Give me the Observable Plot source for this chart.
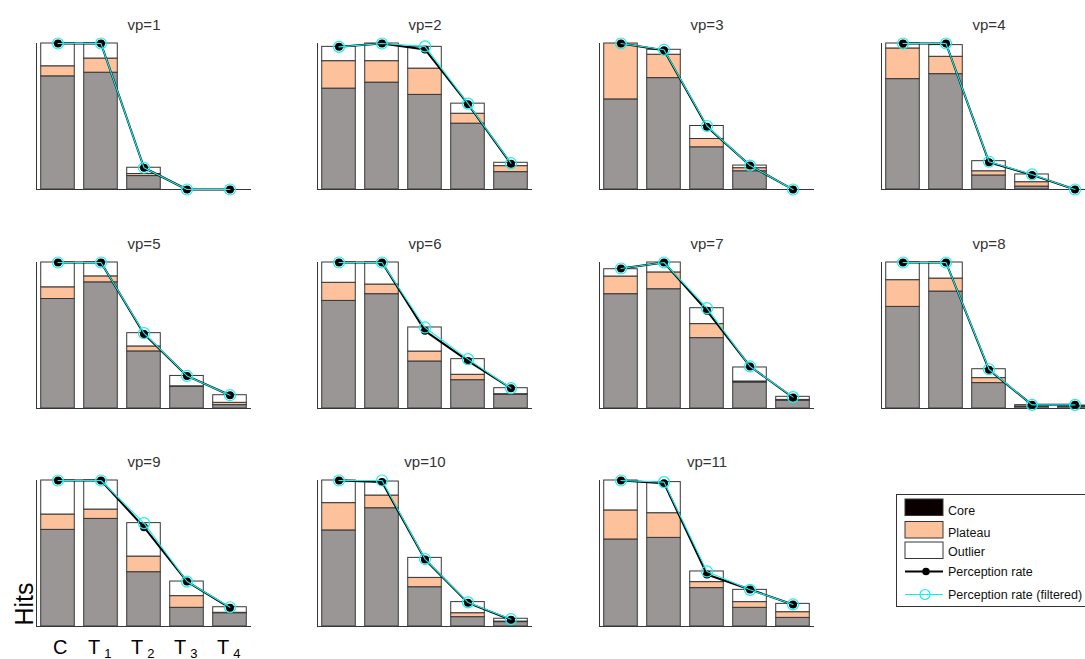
<!DOCTYPE html>
<html><head><meta charset="utf-8">
<script src="https://cdn.jsdelivr.net/npm/d3@7"></script>
<script src="https://cdn.jsdelivr.net/npm/@observablehq/plot@0.6"></script>
<style>
html,body{margin:0;padding:0;background:#fff;overflow:hidden;}
#root{position:relative;width:1085px;height:659px;overflow:hidden;font-family:"Liberation Sans",Arial,Helvetica,sans-serif;background:#fff;}
.panel{position:absolute;}
.panel svg{max-width:none !important;display:block;}
.legend{position:absolute;left:896px;top:494px;}
</style></head><body><div id="root"></div>
<script>
// ---------- data ----------
const titles = ["vp=1","vp=2","vp=3","vp=4","vp=5","vp=6","vp=7","vp=8","vp=9","vp=10","vp=11"];
const categories = ["C","T1","T2","T3","T4"];
// hits per segment (normalized), one row per panel, columns C,T1..T4
const coreHits = [
  [0.775,0.800,0.092,0,0],
  [0.691,0.732,0.648,0.451,0.119],
  [0.617,0.763,0.289,0.125,0],
  [0.756,0.790,0.096,0.020,0],
  [0.750,0.864,0.391,0.148,0.023],
  [0.737,0.783,0.322,0.194,0.094],
  [0.783,0.817,0.482,0.178,0.053],
  [0.696,0.801,0.174,0.011,0.011],
  [0.662,0.737,0.372,0.128,0.091],
  [0.658,0.810,0.269,0.064,0.030],
  [0.596,0.607,0.263,0.128,0.059]
];
const plateauHits = [
  [0.069,0.097,0.014,0,0],
  [0.188,0.147,0.180,0.068,0.041],
  [0.383,0.160,0.057,0.021,0],
  [0.210,0.119,0.029,0.030,0],
  [0.080,0.041,0.034,0.004,0.016],
  [0.124,0.066,0.068,0.037,0.004],
  [0.121,0.115,0.096,0.007,0.006],
  [0.183,0.089,0.034,0.003,0.003],
  [0.105,0.064,0.107,0.080,0.003],
  [0.187,0.087,0.064,0.027,0.004],
  [0.199,0.169,0.041,0.039,0.039]
];
const outlierHits = [
  [0.156,0.103,0.043,0,0],
  [0.098,0.121,0.149,0.069,0.023],
  [0.000,0.034,0.089,0.018,0],
  [0.034,0.080,0.069,0.053,0],
  [0.170,0.095,0.091,0.071,0.052],
  [0.139,0.151,0.165,0.107,0.041],
  [0.050,0.068,0.109,0.096,0.021],
  [0.121,0.110,0.061,0.009,0.006],
  [0.233,0.199,0.229,0.100,0.038],
  [0.155,0.096,0.137,0.076,0.019],
  [0.205,0.213,0.073,0.084,0.057]
];
const perceptionRate = [
  [1,1,0.149,0,0],
  [0.977,1,0.959,0.584,0.176],
  [1,0.954,0.430,0.164,0],
  [1,1,0.187,0.100,0],
  [1,1,0.511,0.223,0.091],
  [1,1,0.532,0.326,0.139],
  [0.959,1,0.669,0.288,0.075],
  [1,1,0.265,0.025,0.025],
  [1,1,0.680,0.308,0.128],
  [1,0.989,0.459,0.162,0.046],
  [1,0.982,0.356,0.253,0.151]
];
const perceptionRateFiltered = [
  [1,1,0.149,0,0],
  [0.977,1,0.980,0.588,0.180],
  [1,0.957,0.435,0.164,0],
  [1,1,0.190,0.103,0],
  [1,1,0.516,0.223,0.091],
  [1,1,0.555,0.338,0.139],
  [0.959,1,0.687,0.288,0.078],
  [1,1,0.269,0.025,0.025],
  [1,1,0.708,0.308,0.132],
  [1,1,0.462,0.165,0.050],
  [1,0.989,0.377,0.251,0.151]
];
const legendLabels = ["Core","Plateau","Outlier","Perception rate","Perception rate (filtered)"];
const yLabel = "Hits";

// ---------- style ----------
const CORE_FILL = "#9a9696", PLAT_FILL = "#fdc29c", OUT_FILL = "#ffffff", EDGE = "#363636";
const CYAN = "#19ecec";
const FONT = "'Liberation Sans', Arial, Helvetica, sans-serif";

// ---------- layout ----------
const colLefts = [35.5, 316.8, 598.6, 880.8];
const rowTops = [42.7, 261.7, 480];
const ML = 30, MR = 30, MT = 40, MB = 36, PW = 215, PH = 146;

const root = document.getElementById("root");

titles.forEach((title, p) => {
  const rows = categories.map((c, i) => {
    const a = coreHits[p][i], b = a + plateauHits[p][i], t = b + outlierHits[p][i];
    return {cat: c, x: i + 1, y0: 0, y1: a, y2: b, y3: t,
            perc: perceptionRate[p][i], filt: perceptionRateFiltered[p][i]};
  });
  const hw = 0.39;
  const marks = [
    Plot.rect(rows, {x1: d => d.x - hw, x2: d => d.x + hw, y1: "y0", y2: "y1", fill: CORE_FILL, stroke: EDGE, strokeWidth: 1}),
    Plot.rect(rows, {x1: d => d.x - hw, x2: d => d.x + hw, y1: "y1", y2: "y2", fill: PLAT_FILL, stroke: EDGE, strokeWidth: 1}),
    Plot.rect(rows, {x1: d => d.x - hw, x2: d => d.x + hw, y1: "y2", y2: "y3", fill: OUT_FILL, stroke: EDGE, strokeWidth: 1}),
    Plot.ruleX([0.5], {stroke: EDGE, strokeWidth: 1}),
    Plot.ruleY([0], {stroke: EDGE, strokeWidth: 1}),
    Plot.line(rows, {x: "x", y: "perc", stroke: "#000", strokeWidth: 2}),
    Plot.dot(rows, {x: "x", y: "perc", r: 4, fill: "#000", stroke: "none"}),
    Plot.line(rows, {x: "x", y: "filt", stroke: CYAN, strokeWidth: 1.1}),
    Plot.dot(rows, {x: "x", y: "filt", r: 5.5, fill: "none", stroke: CYAN, strokeWidth: 1.2}),
    Plot.text([title], {frameAnchor: "top", dy: -14, lineAnchor: "bottom", fontSize: 15, fill: "#333"})
  ];
  if (p === 8) {
    const base = categories.map(c => c.charAt(0));
    const subs = categories.map(c => c.slice(1));
    marks.push(
      Plot.text(base, {x: (d, i) => i + 1 + (subs[i] ? -0.16 : 0.05), frameAnchor: "bottom", lineAnchor: "bottom",
        dy: 27, fontSize: 20, fill: "#000", textAnchor: "middle"}),
      Plot.text(subs, {x: (d, i) => i + 1 + 0.16, frameAnchor: "bottom", lineAnchor: "bottom", dy: 31,
        fontSize: 13, fill: "#000", textAnchor: "middle"}),
      Plot.text([yLabel], {frameAnchor: "bottom-left", rotate: -90, textAnchor: "start", lineAnchor: "bottom",
        fontSize: 25, fill: "#000", dx: -4, dy: -1})
    );
  }
  const chart = Plot.plot({
    width: ML + PW + MR, height: MT + PH + MB,
    marginLeft: ML, marginRight: MR, marginTop: MT, marginBottom: MB,
    x: {domain: [0.5, 5.5], axis: null},
    y: {domain: [0, 1], axis: null},
    style: {background: "transparent", fontFamily: FONT, overflow: "visible", maxWidth: "none"},
    marks
  });
  const div = document.createElement("div");
  div.className = "panel";
  div.style.left = (colLefts[p % 4] - ML) + "px";
  div.style.top = (rowTops[Math.floor(p / 4)] - MT) + "px";
  div.style.width = (ML + PW + MR) + "px";
  div.appendChild(chart);
  root.appendChild(div);
});

// ---------- legend ----------
const NS = "http://www.w3.org/2000/svg";
const lg = document.createElementNS(NS, "svg");
lg.setAttribute("class", "legend");
lg.setAttribute("width", 200); lg.setAttribute("height", 114);
function el(tag, attrs, txt) {
  const e = document.createElementNS(NS, tag);
  for (const k in attrs) e.setAttribute(k, attrs[k]);
  if (txt) e.textContent = txt;
  lg.appendChild(e); return e;
}
el("rect", {x: 0.5, y: 0.5, width: 196, height: 112, fill: "#fff", stroke: "#333"});
const swatchFills = ["#0a0000", PLAT_FILL, OUT_FILL];
const swatchY = [5, 27.5, 48];
swatchFills.forEach((f, i) => {
  el("rect", {x: 9, y: swatchY[i], width: 38, height: 16.5, fill: f, stroke: EDGE, "stroke-width": 1});
});
el("line", {x1: 9, x2: 47, y1: 77.5, y2: 77.5, stroke: "#000", "stroke-width": 2});
el("circle", {cx: 30, cy: 77.5, r: 3.8, fill: "#000"});
el("line", {x1: 9, x2: 47, y1: 100.5, y2: 100.5, stroke: CYAN, "stroke-width": 1.1});
el("circle", {cx: 29, cy: 100.5, r: 5, fill: "none", stroke: CYAN, "stroke-width": 1.2});
const labelY = [21, 43, 62, 81.5, 105];
legendLabels.forEach((t, i) => {
  el("text", {x: 52, y: labelY[i], "font-size": 12.5, "font-family": FONT, fill: "#111"}, t);
});
root.appendChild(lg);
</script></body></html>
